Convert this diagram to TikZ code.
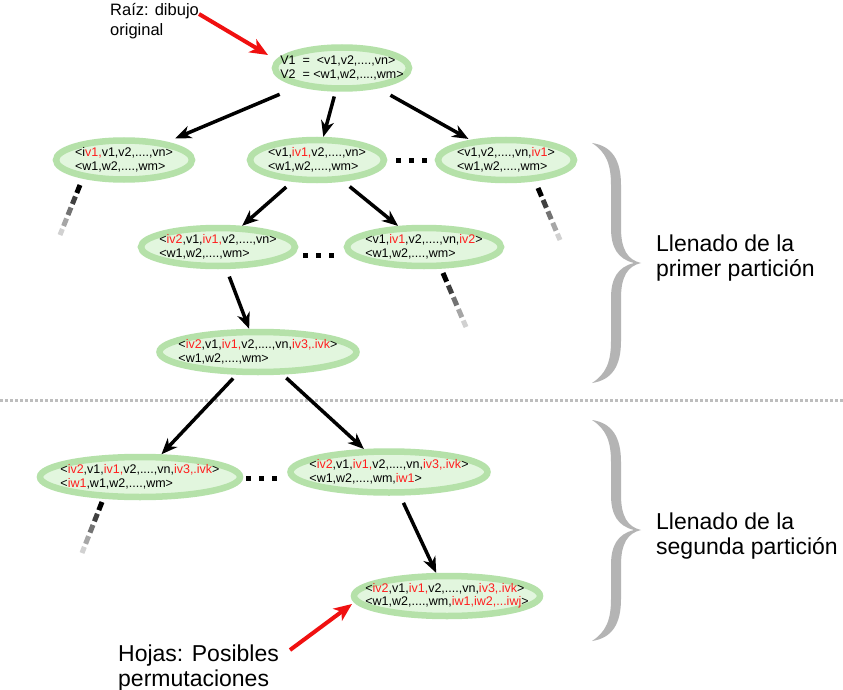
\documentclass[tikz,border=0pt]{standalone}
\usepackage{fontspec}
\setmainfont{Liberation Sans}
\usetikzlibrary{shapes.geometric,arrows.meta,calc}
\definecolor{ringgreen}{HTML}{B5E1A9}
\definecolor{fillgreen}{HTML}{E2F6DE}
\definecolor{txtred}{HTML}{FF1E1E}
\definecolor{arrred}{HTML}{F01010}
\definecolor{bracegray}{HTML}{B4B4B4}
\definecolor{sepgray}{HTML}{BDBDBD}
\newcommand\redt[1]{\textcolor{txtred}{#1}}
\newcommand\drawbrace[3]{%
\fill[bracegray] (592,#1) .. controls (612,#1+3) and (621,#1+17) .. (621,#1+42)
  -- (621,#2-35) .. controls (621,#2-13) and (628,#2-3) .. (641,#2)
  .. controls (628,#2+3) and (621,#2+13) .. (621,#2+35)
  -- (621,#3-42) .. controls (621,#3-17) and (612,#3-3) .. (592,#3)
  .. controls (606,#3-9) and (611,#3-21) .. (611,#3-42)
  -- (611,#2+35) .. controls (611,#2+15) and (618,#2+4) .. (634,#2)
  .. controls (618,#2-4) and (611,#2-15) .. (611,#2-35)
  -- (611,#1+42) .. controls (611,#1+21) and (606,#1+9) .. (592,#1) -- cycle;}
\newcommand\fadestub[2]{%
\foreach \a/\b/\c in {0/0.16/black, 0.23/0.38/black!75, 0.45/0.6/black!55, 0.67/0.82/black!35, 0.88/1/black!18}{%
\draw[line width=5pt,\c] ($#1!\a!#2$) -- ($#1!\b!#2$);}}
\begin{document}
\begin{tikzpicture}[x=1pt,y=-1pt,
  leaf/.style={ellipse, draw=ringgreen, line width=6.5pt, fill=fillgreen, inner sep=0pt},
  leaftext/.style={align=left, inner sep=0pt, font=\fontsize{12.5}{13.5}\selectfont},
  arr/.style={line width=3.5pt, -{Stealth[length=16pt,width=13pt,inset=5pt]},
    shorten <=8pt, shorten >=0pt},
  redarr/.style={arrred, line width=4pt, -{Stealth[length=18pt,width=15pt,inset=5pt]}},
  biglabel/.style={anchor=west, align=left, inner sep=0pt, font=\fontsize{23}{25}\selectfont},
  toplabel/.style={anchor=west, align=left, inner sep=0pt, font=\fontsize{16.5}{20}\selectfont},
  dotsq/.style={fill=black}]
\useasboundingbox (0,0) rectangle (843,690);
\fill[white] (0,0) rectangle (843,690);

% separator
\draw[sepgray, line width=3pt, dash pattern=on 2.5pt off 2.5pt] (0,400) -- (843,400);

% nodes (ellipses)
\node[leaf, minimum width=134pt, minimum height=41pt] (root) at (342,68) {};
\node[leaf, minimum width=136pt, minimum height=39pt] (A1) at (124,160) {};
\node[leaf, minimum width=134pt, minimum height=40pt] (A2) at (317,160) {};
\node[leaf, minimum width=136pt, minimum height=40pt] (A3) at (506,160) {};
\node[leaf, minimum width=154pt, minimum height=38pt] (B1) at (218,247) {};
\node[leaf, minimum width=154pt, minimum height=38pt] (B2) at (424,247) {};
\node[leaf, minimum width=197pt, minimum height=40pt] (C) at (258,352) {};
\node[leaf, minimum width=200pt, minimum height=40pt] (D1) at (140,477) {};
\node[leaf, minimum width=197pt, minimum height=41pt] (D2) at (389,472) {};
\node[leaf, minimum width=186pt, minimum height=40pt] (E) at (447,596) {};

% node texts
\node[leaftext] (troot) at (root) {V1\ \ =\ \ <v1,v2,....,vn>\\V2\ \ = <w1,w2,....,wm>};
\node[leaftext] (tA1) at (A1) {<i\redt{v1,}v1,v2,....,vn>\\<w1,w2,....,wm>};
\node[leaftext] (tA2) at (A2) {<v1,\redt{iv1,}v2,....,vn>\\<w1,w2,....,wm>};
\node[leaftext] (tA3) at (A3) {<v1,v2,....,vn,\redt{iv1}>\\<w1,w2,....,wm>};
\node[leaftext] (tB1) at (B1) {<\redt{iv2},v1,\redt{iv1,}v2,....,vn>\\<w1,w2,....,wm>};
\node[leaftext] (tB2) at (B2) {<v1,\redt{iv1},v2,....,vn,\redt{iv2}>\\<w1,w2,....,wm>};
\node[leaftext] (tC) at (C) {<\redt{iv2},v1,\redt{iv1,}v2,....,vn,\redt{iv3,.ivk}>\\<w1,w2,....,wm>};
\node[leaftext] (tD1) at (D1) {<\redt{iv2},v1,\redt{iv1,}v2,....,vn,\redt{iv3,.ivk}>\\<\redt{iw1},w1,w2,....,wm>};
\node[leaftext] (tD2) at (D2) {<\redt{iv2},v1,\redt{iv1,}v2,....,vn,\redt{iv3,.ivk}>\\<w1,w2,....,wm,\redt{iw1}>};
\node[leaftext] (tE) at (E) {<\redt{iv2},v1,\redt{iv1,}v2,....,vn,\redt{iv3,.ivk}>\\<w1,w2,....,wm,\redt{iw1,iw2,...iwj}>};

% arrows
\draw[arr, shorten <=20pt, shorten >=9pt] (root) -- (A1);
\draw[arr, shorten <=5pt] (root) -- (A2);
\draw[arr, shorten <=14pt, shorten >=2pt] (root) -- (A3);
\draw[arr] (A2) -- (B1);
\draw[arr] (A2) -- (B2);
\draw[arr] (B1) -- (C);
\draw[arr, shorten <=5pt] (C) -- (D1);
\draw[arr, shorten <=5pt] (C) -- (D2);
\draw[arr] (D2) -- (E);

% fading stubs
\fadestub{($(A1)+(-44,25)$)}{($(A1)+(-64,75)$)}
\fadestub{($(A3)+(32,28)$)}{($(A3)+(54,80)$)}
\fadestub{($(B2)+(19,26)$)}{($(B2)+(42,80)$)}
\fadestub{($(D1)+(-38,25)$)}{($(D1)+(-58,76)$)}

% ellipsis dots
\foreach \x in {396,409,422} \fill[dotsq] (\x,158) rectangle +(4.5,4.5);
\foreach \x in {303,316,329} \fill[dotsq] (\x,253) rectangle +(4.5,4.5);
\foreach \x in {246,259,272} \fill[dotsq] (\x,476) rectangle +(4.5,4.5);

% braces
\drawbrace{143}{263}{383}
\drawbrace{420}{530}{641}

% labels
\node[toplabel] (raiz) at (110,21) {Raíz: dibujo\\original};
\node[biglabel] (part1) at (656,258) {Llenado de la\\primer partición};
\node[biglabel] (part2) at (656,536) {Llenado de la\\segunda partición};
\node[biglabel] (hojas) at (118,668) {Hojas: Posibles\\permutaciones};

\coordinate (rzt) at (199,14);
\coordinate (rzh) at (268,55);
\coordinate (hjt) at (290,650);
\coordinate (hjh) at (352,604);
\draw[redarr] (rzt) -- (rzh);
\draw[redarr] (hjt) -- (hjh);
\end{tikzpicture}
\end{document}
